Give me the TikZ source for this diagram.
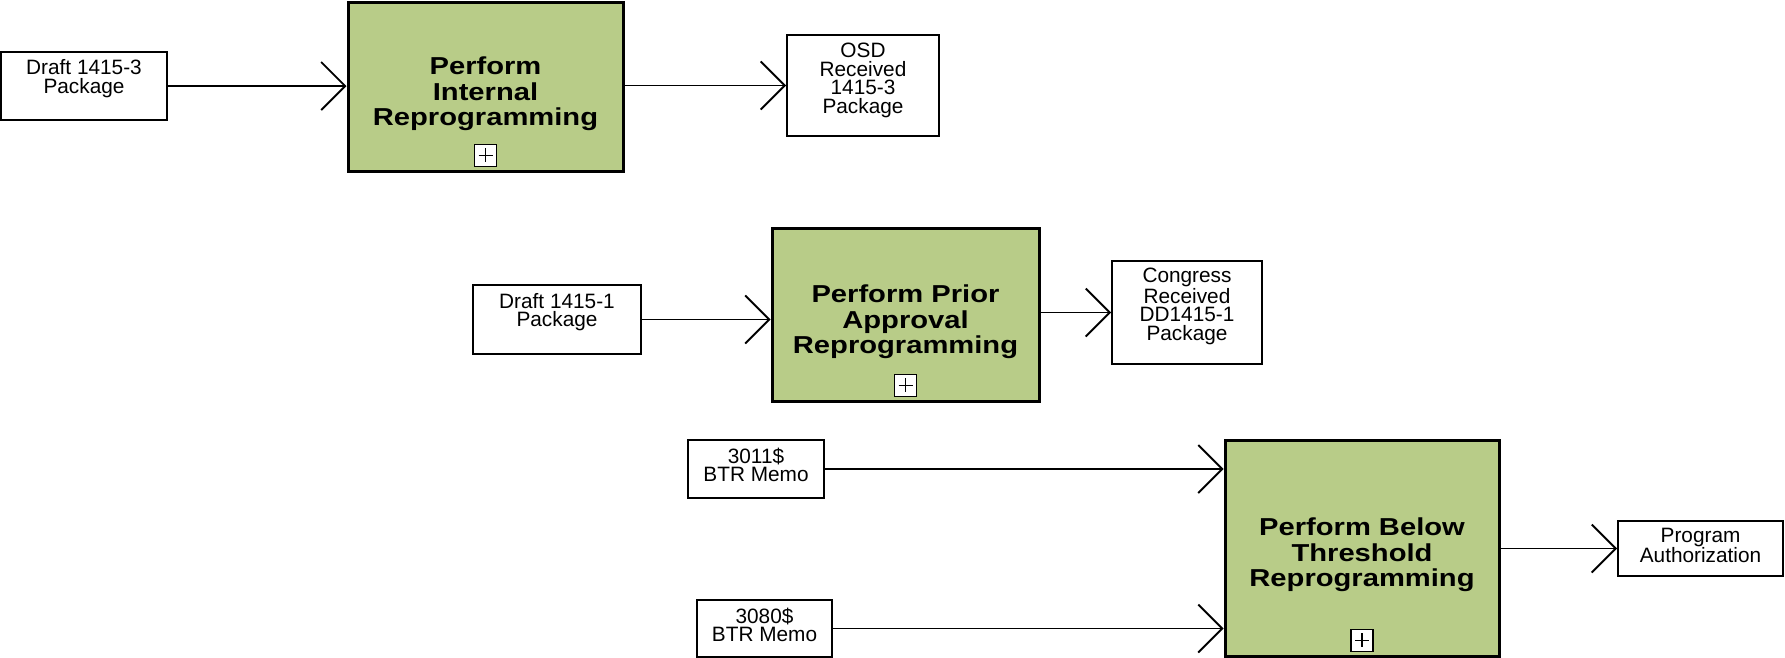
\documentclass[tikz,border=0pt]{standalone}
\usepackage{fontspec}
\setmainfont{Liberation Sans}
\newfontfamily\procfont[FakeStretch=1.19]{Liberation Sans Bold}
\usepackage{tikz}
\usetikzlibrary{arrows.meta,positioning}
\definecolor{procgreen}{RGB}{184,204,136}

\begin{document}
\begin{tikzpicture}[
    x=1pt, y=-1pt,
    item/.style={draw, line width=2pt, fill=white, anchor=north, inner sep=0pt, align=center, font=\fontsize{20.8}{18.6}\selectfont},
    proc/.style={draw, line width=3pt, fill=procgreen, anchor=north, inner sep=0pt, align=center, font=\procfont\fontsize{24.5}{25.5}\selectfont},
    plus/.style={draw, line width=1.2pt, fill=white, minimum size=22pt, inner sep=0pt,
        path picture={\draw[line width=1.1pt] ([xshift=4pt]path picture bounding box.west) -- ([xshift=-4pt]path picture bounding box.east)
            ([yshift=-4pt]path picture bounding box.north) -- ([yshift=4pt]path picture bounding box.south);}},
    arr/.style={-{Straight Barb[length=24pt, width=48pt]}, line width=1.8pt}
]
\useasboundingbox (0,0) rectangle (1785,657);

\node[proc, minimum width=275pt, text height=123pt, text depth=46pt] (A) at (485.5,1) {Perform\\Internal\\Reprogramming};
\node[proc, minimum width=267pt, text height=125pt, text depth=48pt] (B) at (905.5,227) {Perform Prior\\Approval\\Reprogramming};
\node[proc, minimum width=274pt, text height=146pt, text depth=70pt] (C) at (1362,439) {Perform Below\\Threshold\\Reprogramming};
\node[plus, above=6pt of A.south] (Aplus) {};
\node[plus, above=6pt of B.south] (Bplus) {};
\node[plus, above=6pt of C.south] (Cplus) {};

\node[item, minimum width=166pt, text height=41.5pt, text depth=26.5pt] (d3) at (84,51) {Draft 1415-3\\Package};
\node[item, minimum width=152pt, text height=78.5pt, text depth=22.5pt] (osd) at (863,34) {OSD\\Received\\1415-3\\Package};
\node[item, minimum width=168pt, text height=41.6pt, text depth=27.4pt] (d1) at (557,284) {Draft 1415-1\\Package};
\node[item, minimum width=150pt, text height=79.3pt, text depth=23.7pt] (cong) at (1187,260) {Congress\\Received\\DD1415-1\\Package};
\node[item, minimum width=136pt, text height=41.6pt, text depth=16.4pt] (m3011) at (756,439) {3011\$\\BTR Memo};
\node[item, minimum width=135pt, text height=41.6pt, text depth=15.4pt] (m3080) at (764.5,599) {3080\$\\BTR Memo};
\node[item, minimum width=165pt, text height=41.6pt, text depth=13.4pt] (auth) at (1700.5,520) {Program\\Authorization};

\draw[arr] (d3) -- (d3 -| A.west);
\draw[arr] (osd -| A.east) -- (osd);
\draw[arr] (d1) -- (d1 -| B.west);
\draw[arr] (cong -| B.east) -- (cong);
\draw[arr] (m3011) -- (m3011 -| C.west);
\draw[arr] (m3080) -- (m3080 -| C.west);
\draw[arr] (auth -| C.east) -- (auth);
\end{tikzpicture}
\end{document}
